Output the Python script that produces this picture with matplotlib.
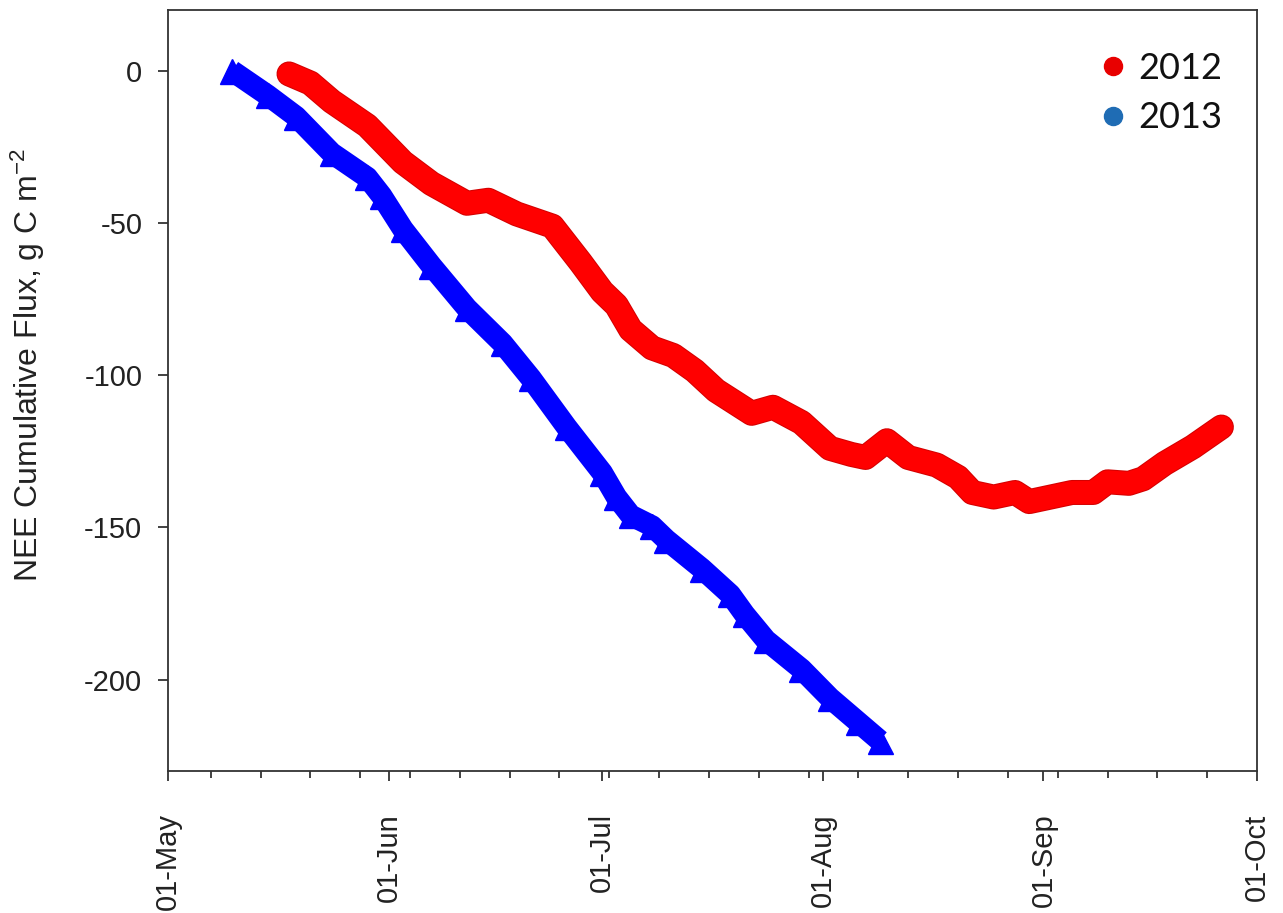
import numpy as np
import matplotlib
matplotlib.use("Agg")
import matplotlib.pyplot as plt
import matplotlib.dates as mdates
from matplotlib.lines import Line2D
from matplotlib.ticker import FixedLocator
import matplotlib.patheffects as pe

plt.rcParams['font.family'] = ['Liberation Sans', 'DejaVu Sans']
plt.rcParams['mathtext.default'] = 'regular'

# ---- data ----
dates_2012 = ["2012-05-18", "2012-05-21", "2012-05-24", "2012-05-29", "2012-06-03",
              "2012-06-07", "2012-06-12", "2012-06-15", "2012-06-19", "2012-06-24",
              "2012-06-26", "2012-06-28", "2012-07-01", "2012-07-03", "2012-07-05",
              "2012-07-08", "2012-07-11", "2012-07-14", "2012-07-17", "2012-07-22",
              "2012-07-25", "2012-07-29", "2012-08-02", "2012-08-05", "2012-08-07",
              "2012-08-10", "2012-08-13", "2012-08-17", "2012-08-20", "2012-08-22",
              "2012-08-25", "2012-08-28", "2012-08-30", "2012-09-02", "2012-09-05",
              "2012-09-08", "2012-09-10", "2012-09-13", "2012-09-15", "2012-09-18",
              "2012-09-22", "2012-09-26"]
nee_2012 = [-1, -4, -10, -18, -30,
            -37, -43.5, -42.5, -47, -51,
            -57, -63, -72.5, -77, -85,
            -91, -93.5, -98.5, -105, -112.5,
            -110.5, -115.5, -124, -126, -127,
            -121.5, -127, -129.5, -133.5, -138.5,
            -140, -138.5, -141.5, -140, -138.5,
            -138.5, -135, -135.5, -134, -129,
            -123.5, -117]

# 2013 plotted on the same seasonal axis
dates_2013 = ["2012-05-10", "2012-05-15", "2012-05-19", "2012-05-24", "2012-05-29",
              "2012-05-31", "2012-06-03", "2012-06-07", "2012-06-12", "2012-06-17",
              "2012-06-21", "2012-06-26", "2012-07-01", "2012-07-03", "2012-07-05",
              "2012-07-08", "2012-07-10", "2012-07-15", "2012-07-19", "2012-07-21",
              "2012-07-24", "2012-07-29", "2012-08-02", "2012-08-06", "2012-08-09"]
nee_2013 = [0, -8, -15, -27, -35,
            -41, -52, -64, -78, -89.5,
            -101, -117, -132, -140, -146,
            -149.5, -154, -163.5, -172, -178.5,
            -187, -196.5, -206, -214, -220]

month_labels = ["01-May", "01-Jun", "01-Jul", "01-Aug", "01-Sep", "01-Oct"]
month_dates = ["2012-05-01", "2012-06-01", "2012-07-01", "2012-08-01", "2012-09-01", "2012-10-01"]
y_ticks = [0, -50, -100, -150, -200]
series_labels = ["2012", "2013"]

# ---- figure ----
fig = plt.figure(figsize=(12.83, 9.13), dpi=100)
ax = fig.add_axes([168/1283, 1-771/913, (1257-168)/1283, (771-10)/913])

x12 = np.array(dates_2012, dtype='datetime64[D]')
x13 = np.array(dates_2013, dtype='datetime64[D]')

red = '#ff0000'
blue = '#0000ff'

ax.plot(x12, nee_2012, color=red, lw=16.5, solid_capstyle='round',
        solid_joinstyle='round', zorder=3,
        path_effects=[pe.Stroke(linewidth=18, foreground='#d40000'), pe.Normal()])

ax.plot(x13, nee_2013, color=blue, lw=15.5, solid_capstyle='butt',
        solid_joinstyle='round', zorder=2)
ax.plot(x13, nee_2013, ls='none', marker='^', ms=18, mfc=blue, mec=blue, zorder=2)

ax.set_xlim(np.datetime64('2012-05-01'), np.datetime64('2012-10-01'))
ax.set_ylim(-230, 20)

ax.set_xticks(np.array(month_dates, dtype='datetime64[D]'))
ax.set_xticklabels(month_labels, rotation=90, fontsize=21)
minor = np.arange(np.datetime64('2012-05-07'), np.datetime64('2012-10-02'), 7)
ax.xaxis.set_minor_locator(FixedLocator(mdates.date2num(minor)))

ax.set_yticks(y_ticks)
ax.set_yticklabels([str(v) for v in y_ticks], fontsize=21)

for s in ax.spines.values():
    s.set_linewidth(1.3)
    s.set_color('#333333')

ax.tick_params(axis='both', which='major', direction='out', length=7.5, width=1.3,
               color='#333333', labelcolor='#222222')
ax.tick_params(axis='x', which='major', pad=23)
ax.tick_params(axis='y', which='major', pad=11)
ax.tick_params(axis='x', which='minor', direction='out', length=5, width=1.3, color='#333333')

ax.set_ylabel('NEE Cumulative Flux, g C m$^{-2}$', fontsize=23, color='#222222')
ax.yaxis.set_label_coords(-0.111, 0.533)

handles = [Line2D([], [], ls='none', marker='o', ms=13, mfc='#e80000', mec='#e80000'),
           Line2D([], [], ls='none', marker='o', ms=13, mfc='#1f6cb4', mec='#1f6cb4')]
leg = ax.legend(handles, series_labels, loc='upper right',
                bbox_to_anchor=((1222-168)/1089, (771-52)/761),
                frameon=False, borderpad=0, borderaxespad=0,
                handlelength=0.8, handletextpad=0.3, labelspacing=0.45,
                prop={'family': 'Lato', 'size': 26})
for t in leg.get_texts():
    t.set_color('#111111')

fig.savefig('out.png', dpi=100)
